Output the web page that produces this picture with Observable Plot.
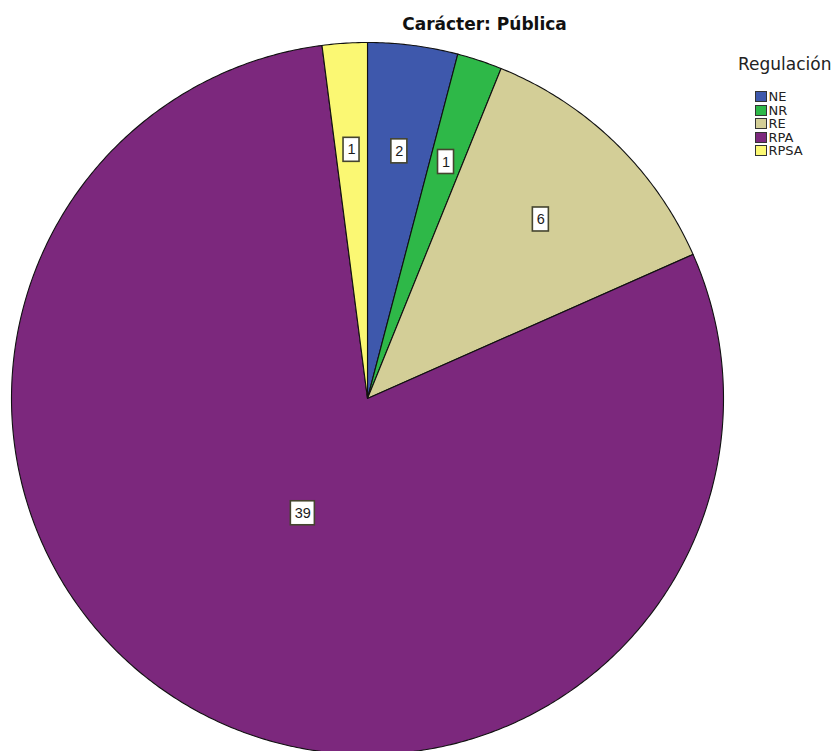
<!DOCTYPE html>
<html><head><meta charset="utf-8">
<script src="https://cdn.jsdelivr.net/npm/d3@7"></script>
<script src="https://cdn.jsdelivr.net/npm/@observablehq/plot@0.6"></script>
<style>
body{margin:0;background:#fff;}
#wrap{position:relative;width:838px;height:751px;overflow:hidden;background:#fff;}
#chart{position:absolute;left:0;top:0;}
#title{position:absolute;left:284.5px;width:400px;top:15.5px;text-align:center;font-family:"DejaVu Sans";font-weight:bold;font-size:17px;line-height:17px;color:#111;white-space:nowrap;}
#legend{position:absolute;left:738px;top:56px;font-family:"DejaVu Sans";color:#222;}
#legend .lt{font-size:17px;line-height:17px;margin-bottom:17px;white-space:nowrap;}
#legend .row{position:relative;height:13.5px;margin-left:17px;font-size:13px;line-height:13.5px;}
#legend .sw{position:absolute;left:0;top:1px;width:10px;height:9px;border:1.5px solid #333;}
#legend .lab{position:absolute;left:13.5px;top:0;}
</style></head><body>
<div id="wrap"><div id="chart"></div><div id="title"></div><div id="legend"></div></div>
<script>
const titleText = "Carácter: Pública";
const legendTitle = "Regulación";
const categories = ["NE", "NR", "RE", "RPA", "RPSA"];
const counts = [2, 1, 6, 39, 1];
const colors = ["#3E58AC", "#2EB848", "#D3CE97", "#7C287D", "#FBF873"];

// layout
const W = 838, H = 751, cx = 367, R = 356, pieTop = 42;

const arcs = d3.pie().sort(null).value(d => d)(counts);
const slices = arcs.map((a, i) => {
  const n = Math.max(2, Math.ceil((a.endAngle - a.startAngle) / (Math.PI / 360)));
  const pts = [{x: 0, y: 0}];
  for (let k = 0; k <= n; k++) {
    const t = a.startAngle + (a.endAngle - a.startAngle) * k / n;
    pts.push({x: Math.sin(t), y: Math.cos(t)});
  }
  return {cat: categories[i], color: colors[i], pts};
});
const labels = arcs.map((a, i) => {
  const mid = (a.startAngle + a.endAngle) / 2;
  const span = a.endAngle - a.startAngle;
  const rf = span > Math.PI ? 0.37 : 0.7;
  const text = String(counts[i]);
  return {x: rf * Math.sin(mid), y: rf * Math.cos(mid), text,
          hw: (text.length * 8 + 8) / 2 / R, hh: 12 / R};
});

const yMin = 1 - (H - pieTop) / R;
const chart = Plot.plot({
  width: W, height: H,
  marginLeft: cx - R, marginRight: W - (cx + R), marginTop: pieTop, marginBottom: 0,
  x: {domain: [-1, 1], axis: null},
  y: {domain: [yMin, 1], axis: null},
  style: {background: "white", overflow: "visible"},
  marks: [
    ...slices.map(s => Plot.line(s.pts, {x: "x", y: "y", fill: s.color, stroke: "#111", strokeWidth: 1.1, curve: "linear-closed"})),
    Plot.rect(labels, {x1: d => d.x - d.hw, x2: d => d.x + d.hw, y1: d => d.y - d.hh, y2: d => d.y + d.hh, fill: "white", stroke: "#45452f", strokeWidth: 1.6}),
    Plot.text(labels, {x: "x", y: "y", text: "text", fontSize: 14.5, fontFamily: "Liberation Sans", fill: "#1a1a1a"})
  ]
});
document.getElementById("chart").appendChild(chart);
document.getElementById("title").textContent = titleText;

const lg = d3.select("#legend");
lg.append("div").attr("class", "lt").text(legendTitle);
categories.forEach((c, i) => {
  const r = lg.append("div").attr("class", "row");
  r.append("div").attr("class", "sw").style("background", colors[i]);
  r.append("div").attr("class", "lab").text(c);
});
</script>
</body></html>
